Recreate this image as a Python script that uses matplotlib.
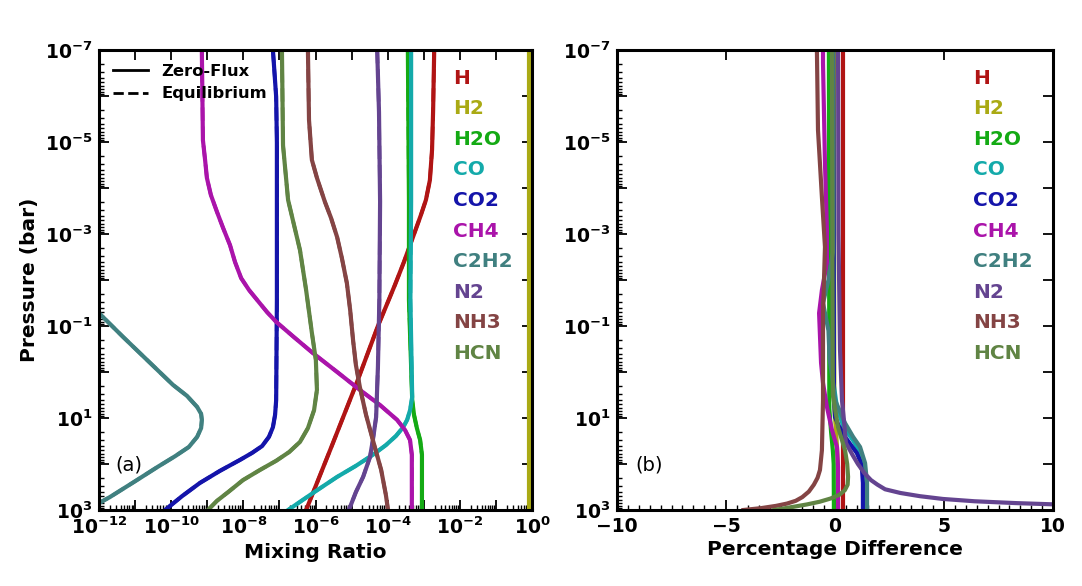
import numpy as np
import matplotlib
matplotlib.use('Agg')
import matplotlib.pyplot as plt
from matplotlib.ticker import LogLocator, FuncFormatter, MultipleLocator, NullFormatter
from matplotlib.lines import Line2D

plt.rcParams['font.family'] = ['DejaVu Sans']
plt.rcParams['font.weight'] = 'bold'
plt.rcParams['mathtext.default'] = 'bf'
plt.rcParams['axes.unicode_minus'] = True

species = ['H', 'H2', 'H2O', 'CO', 'CO2', 'CH4', 'C2H2', 'N2', 'NH3', 'HCN']
colors = ['#b01414', '#aaaa14', '#14aa14', '#14aaaa', '#1414aa',
          '#aa14aa', '#408080', '#644490', '#844444', '#608444']

# ---- Panel (a): log10 pressure (bar) and log10 mixing ratio ----
H_logp = [-7, -5.70, -4.83, -4.17, -3.74, -3.41, -2.93, -2.39, -1.89, -1.0, 0.22, 1.59, 3.0]
H_logx = [-2.71, -2.74, -2.77, -2.83, -2.94, -3.08, -3.30, -3.55, -3.80, -4.27, -4.85, -5.54, -6.26]
H2_logp = [-7, 3]
H2_logx = [-0.07, -0.07]
H2O_logp = [-7, -3.7, -1.57, 0.61, 0.93, 1.22, 1.48, 1.80, 3]
H2O_logx = [-3.44, -3.41, -3.41, -3.32, -3.27, -3.19, -3.10, -3.05, -3.05]
CO_logp = [-7, -3.7, -1.57, 0.54, 0.83, 1.04, 1.20, 1.39, 1.59, 1.80, 2.04, 2.28, 2.63, 3]
CO_logx = [-3.35, -3.35, -3.37, -3.32, -3.38, -3.46, -3.57, -3.77, -4.05, -4.41, -4.88, -5.40, -6.07, -6.76]
CO2_logp = [-7, -5.98, -4.98, -1.57, 0.61, 0.93, 1.20, 1.41, 1.61, 1.76, 1.91, 2.15, 2.41, 2.70, 3]
CO2_logx = [-7.18, -7.09, -7.07, -7.07, -7.09, -7.12, -7.18, -7.29, -7.48, -7.76, -8.09, -8.65, -9.20, -9.70, -10.17]
CH4_logp = [-7, -5.04, -4.61, -4.22, -3.85, -3.48, -3.13, -2.76, -2.39, -2.04, -1.78, -1.52,
            -1.30, -1.09, -0.76, -0.41, 0.0, 0.39, 0.72, 1.04, 1.26, 1.48, 1.80, 3.0]
CH4_logx = [-9.15, -9.12, -9.06, -9.01, -8.90, -8.73, -8.56, -8.37, -8.23, -8.06, -7.84, -7.57,
            -7.34, -7.09, -6.60, -6.07, -5.40, -4.77, -4.21, -3.74, -3.52, -3.38, -3.33, -3.33]
C2H2_logp = [-1.4, -1.28, -0.76, -0.24, 0.28, 0.52, 0.76, 0.91, 1.04, 1.22, 1.41, 1.63, 1.83,
             2.07, 2.39, 2.72, 2.85, 2.95]
C2H2_logx = [-12.24, -12.0, -11.33, -10.64, -9.95, -9.56, -9.28, -9.17, -9.15, -9.17, -9.28, -9.51,
             -9.89, -10.39, -11.03, -11.70, -12.0, -12.25]
N2_logp = [-7, -5.65, -3.70, -1.57, -0.11, 0.98, 1.48, 1.85, 2.28, 2.61, 2.93, 3.0]
N2_logx = [-4.29, -4.24, -4.21, -4.23, -4.27, -4.32, -4.41, -4.49, -4.68, -4.88, -5.04, -5.08]
NH3_logp = [-7, -5.48, -4.61, -4.22, -3.96, -3.70, -3.35, -2.93, -2.48, -1.93, -1.35, -0.70,
            -0.15, 0.33, 0.93, 1.48, 2.13, 2.67, 3.0]
NH3_logx = [-6.21, -6.18, -6.10, -5.96, -5.85, -5.74, -5.57, -5.40, -5.27, -5.13, -5.04, -4.96,
            -4.88, -4.77, -4.60, -4.41, -4.18, -4.05, -3.99]
HCN_logp = [-7, -4.93, -3.74, -2.65, -1.78, -0.85, -0.26, 0.39, 0.83, 1.22, 1.52, 1.74, 1.93,
            2.13, 2.35, 2.61, 2.80, 3.0]
HCN_logx = [-6.93, -6.90, -6.76, -6.43, -6.26, -6.10, -5.99, -5.96, -6.04, -6.21, -6.43, -6.73,
            -7.09, -7.54, -8.01, -8.42, -8.73, -8.98]

# ---- Panel (b): log10 pressure and percentage difference ----
H_dp = [-7, 3]
H_d = [0.37, 0.37]
H2_dp = [-7, 0.8, 1.3, 1.7, 2.0, 3]
H2_d = [-0.05, -0.03, 0.05, 0.1, 0.13, 0.14]
H2O_dp = [-7, 0.8, 1.3, 1.7, 2.0, 3]
H2O_d = [-0.28, -0.26, -0.18, -0.1, -0.06, -0.05]
CO_dp = [-7, 0.3, 0.8, 1.2, 1.5, 1.8, 2.2, 3]
CO_d = [-0.1, -0.05, 0.1, 0.4, 0.85, 1.2, 1.32, 1.35]
CO2_dp = [-7, 0.5, 0.98, 1.2, 1.41, 1.6, 1.76, 1.95, 2.13, 2.41, 3]
CO2_d = [-0.08, -0.05, 0.0, 0.2, 0.46, 0.75, 1.0, 1.17, 1.24, 1.28, 1.28]
CH4_dp = [-7, -6.72, -4.54, -3.09, -2.37, -1.78, -1.28, -0.2, 0.24, 0.76, 1.26, 1.63, 2.07, 3]
CH4_d = [-0.55, -0.55, -0.46, -0.37, -0.37, -0.6, -0.73, -0.64, -0.55, -0.37, -0.14, 0.09, 0.14, 0.14]
C2H2_dp = [-7, -2.6, -2.0, -1.5, -0.9, -0.3, 0.2, 0.61, 1.11, 1.41, 1.63, 1.98, 2.41, 3]
C2H2_d = [-0.1, -0.1, -0.3, -0.55, -0.3, -0.25, -0.1, 0.0, 0.46, 0.83, 1.15, 1.38, 1.47, 1.47]
N2_dp = [-7, -3, -0.48, 0.61, 1.0, 1.54, 1.8, 2.0, 2.2, 2.35, 2.45, 2.55, 2.63, 2.7, 2.76,
         2.81, 2.85, 2.88, 2.95]
N2_d = [0.14, 0.16, 0.23, 0.32, 0.4, 0.5, 0.8, 1.05, 1.35, 1.65, 1.95, 2.3, 3.0, 3.9, 4.95,
        6.4, 8.3, 10.2, 14]
NH3_dp = [-7, -5.26, -3.8, -2.72, -1.28, -0.2, 0.61, 1.7, 2.13, 2.3, 2.45, 2.6, 2.72, 2.8,
          2.86, 2.91, 2.96, 3.0]
NH3_d = [-0.83, -0.78, -0.6, -0.46, -0.55, -0.55, -0.55, -0.6, -0.69, -0.8, -0.97, -1.2, -1.5,
         -1.8, -2.2, -2.7, -3.4, -4.2]
HCN_dp = [-7, 0.5, 1.2, 1.7, 2.0, 2.28, 2.45, 2.57, 2.67, 2.75, 2.82, 2.88, 2.93, 2.97, 3.0]
HCN_d = [-0.14, -0.1, 0.14, 0.46, 0.56, 0.6, 0.58, 0.45, 0.2, -0.2, -0.7, -1.3, -1.9, -2.4, -2.8]

mix_p = [H_logp, H2_logp, H2O_logp, CO_logp, CO2_logp, CH4_logp, C2H2_logp, N2_logp, NH3_logp, HCN_logp]
mix_x = [H_logx, H2_logx, H2O_logx, CO_logx, CO2_logx, CH4_logx, C2H2_logx, N2_logx, NH3_logx, HCN_logx]
dif_p = [H_dp, H2_dp, H2O_dp, CO_dp, CO2_dp, CH4_dp, C2H2_dp, N2_dp, NH3_dp, HCN_dp]
dif_x = [H_d, H2_d, H2O_d, CO_d, CO2_d, CH4_d, C2H2_d, N2_d, NH3_d, HCN_d]

fig = plt.figure(figsize=(10.82, 5.86), dpi=100)
axa = fig.add_axes([99 / 1082, 1 - 510 / 586, 433 / 1082, 460 / 586])
axb = fig.add_axes([617 / 1082, 1 - 510 / 586, 436 / 1082, 460 / 586])

for name, c, p, x in zip(species, colors, mix_p, mix_x):
    pp = 10.0 ** np.array(p)
    xx = 10.0 ** np.array(x)
    axa.plot(xx, pp, '-', color=c, lw=3.0, solid_joinstyle='round')
    axa.plot(xx, pp, '--', color=c, lw=2.6)

for name, c, p, d in zip(species, colors, dif_p, dif_x):
    axb.plot(d, 10.0 ** np.array(p), '-', color=c, lw=3.0, solid_joinstyle='round')


def ylab(v, pos):
    e = int(round(np.log10(v)))
    return r'$10^{%d}$' % e if e % 2 == 1 else ''


def xlab(v, pos):
    e = int(round(np.log10(v)))
    return r'$10^{%d}$' % e if e % 2 == 0 else ''


for ax in (axa, axb):
    ax.set_yscale('log')
    ax.set_ylim(1e3, 1e-7)
    ax.yaxis.set_major_locator(LogLocator(base=10, numticks=30))
    ax.yaxis.set_minor_locator(LogLocator(base=10, subs=np.arange(2, 10) * 1.0, numticks=30))
    ax.yaxis.set_major_formatter(FuncFormatter(ylab))
    ax.yaxis.set_minor_formatter(NullFormatter())
    for s in ax.spines.values():
        s.set_linewidth(2.2)
    ax.tick_params(which='major', direction='in', length=7, width=1.3,
                   top=True, right=True, labelsize=13.5, pad=5)
    ax.tick_params(which='minor', direction='in', length=3.5, width=1.0,
                   top=False, right=False, left=True, bottom=True)

axa.set_xscale('log')
axa.set_xlim(1e-12, 1)
axa.xaxis.set_major_locator(LogLocator(base=10, numticks=30))
axa.xaxis.set_minor_locator(LogLocator(base=10, subs=np.arange(2, 10) * 1.0, numticks=30))
axa.xaxis.set_major_formatter(FuncFormatter(xlab))
axa.xaxis.set_minor_formatter(NullFormatter())

axb.set_xlim(-10, 10)
axb.xaxis.set_major_locator(MultipleLocator(5))
axb.xaxis.set_minor_locator(MultipleLocator(0.5))

axa.set_xlabel('Mixing Ratio', fontsize=14.5, fontweight='bold', labelpad=3)
axb.set_xlabel('Percentage Difference', fontsize=14.5, fontweight='bold', labelpad=3)
axa.set_ylabel('Pressure (bar)', fontsize=14.5, fontweight='bold', labelpad=4)

for ax, fx in ((axa, 0.818), (axb, 0.817)):
    for i, (name, c) in enumerate(zip(species, colors)):
        ax.text(fx, 0.939 - i * 0.0665, name, color=c, fontsize=14.5, fontweight='bold',
                transform=ax.transAxes, ha='left', va='center')

axa.text(0.037, 0.098, '(a)', fontsize=14, fontweight='normal', transform=axa.transAxes,
         ha='left', va='center')
axb.text(0.041, 0.098, '(b)', fontsize=14, fontweight='normal', transform=axb.transAxes,
         ha='left', va='center')

handles = [Line2D([], [], color='black', lw=2, ls='-'),
           Line2D([], [], color='black', lw=2, ls='--')]
axa.legend(handles, ['Zero-Flux', 'Equilibrium'], loc='upper left', frameon=False,
           prop={'size': 11.8, 'weight': 'bold'}, handlelength=2.15, borderaxespad=0.45,
           labelspacing=0.45, handletextpad=0.8)

fig.savefig('out.png', dpi=100)
